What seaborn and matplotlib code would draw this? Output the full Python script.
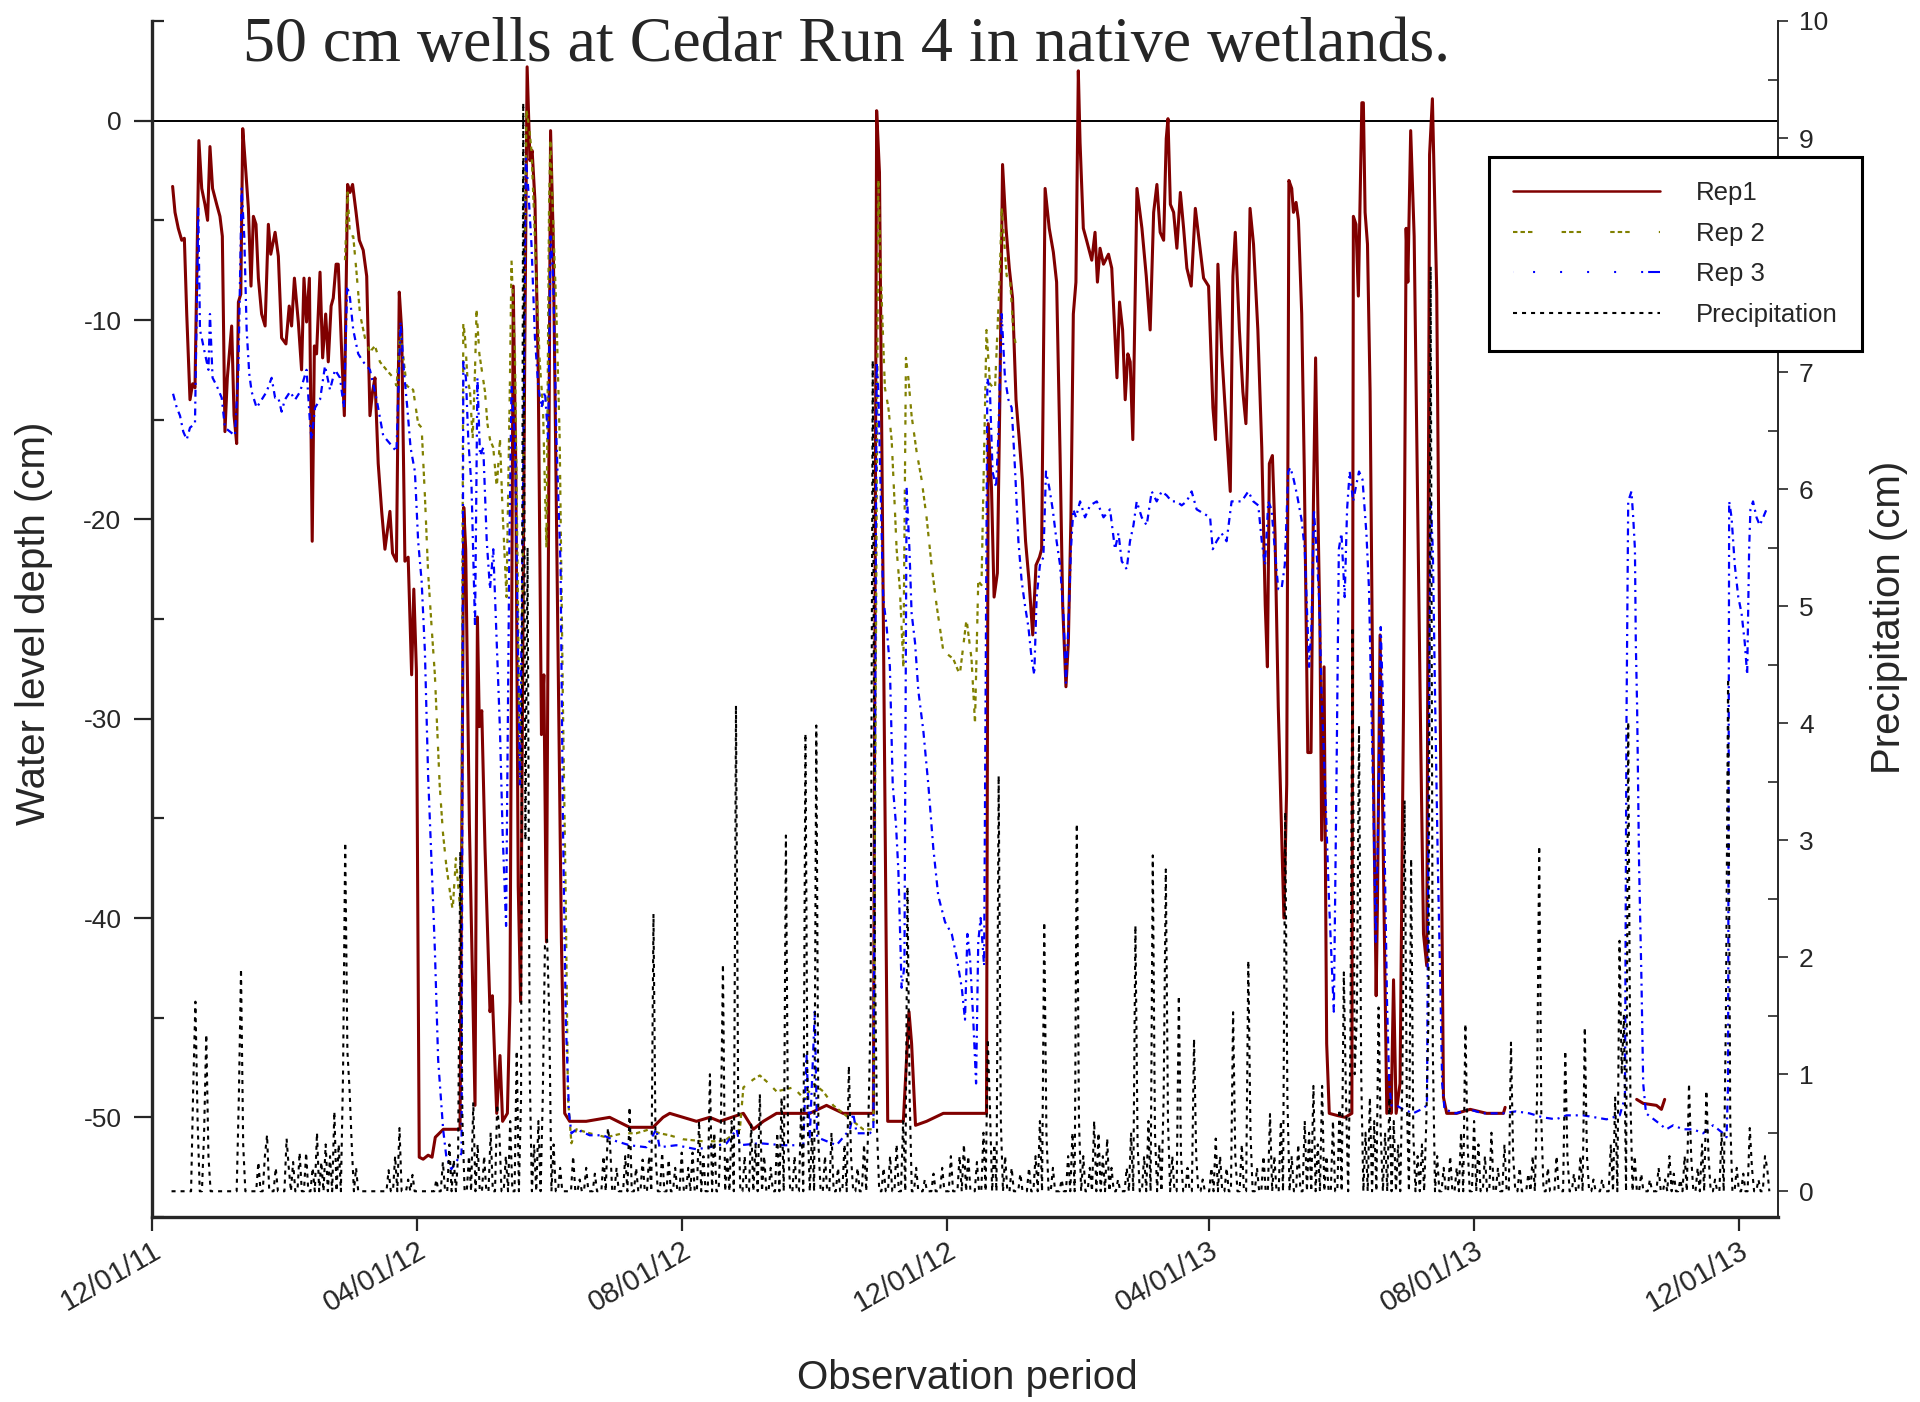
import numpy as np
import pandas as pd
import matplotlib
matplotlib.use("Agg")
import matplotlib.pyplot as plt
import matplotlib.dates as mdates
from matplotlib.ticker import MultipleLocator
from matplotlib.lines import Line2D
import seaborn as sns

START = pd.Timestamp("2011-12-01")

# jours depuis le 12/01/11 et profondeur de la nappe (cm)
rep1_day = [9.5, 10.6, 12.1, 13.7, 14.9, 16.0, 17.5, 18.7, 19.8, 21.6, 22.9, 24.4, 25.6, 26.7, 27.9,
            29.8, 31.3, 32.4, 33.6, 34.7, 36.7, 37.8, 39.0, 39.8, 40.9, 41.8, 42.8, 44.4, 45.6, 46.7,
            47.9, 49.0, 50.5, 52.1, 53.6, 54.7, 56.7, 58.2, 59.7, 61.7, 63.2, 64.3, 65.6, 67.4, 68.9,
            70.0, 71.2, 72.5, 73.8, 74.8, 75.8, 77.4, 78.6, 80.0, 81.2, 82.5, 83.5, 84.8, 85.8, 87.4,
            88.6, 90.1, 91.2, 92.4, 94.0, 95.5, 97.3, 98.9, 100.4, 101.6, 102.7, 104.2, 105.8, 107.3,
            109.6, 110.8, 112.6, 113.9, 115.0, 116.5, 118.0, 119.6, 120.6, 121.8, 123.1, 124.9, 127.2,
            129.0, 130.5, 134.2, 141.9, 143.6, 144.5, 146.2, 148.8, 149.9, 150.8, 151.9, 153.4, 155.7,
            156.8, 158.8, 160.3, 161.5, 163.7, 164.9, 166.4, 167.6, 168.7, 169.8, 171.7, 172.8, 174.1,
            175.1, 176.4, 177.9, 179.4, 180.5, 181.7, 183.6, 184.8, 186.3, 188.6, 190.1, 192.4, 200.0,
            210.8, 220.0, 230.8, 235.4, 238.5, 244.6, 250.8, 256.9, 261.5, 272.4, 277.0, 281.6, 287.7,
            303.0, 310.7, 318.4, 332.3, 333.8, 335.1, 336.6, 338.9, 346.1, 348.7, 349.9, 351.7, 356.8,
            364.5, 373.7, 379.8, 384.4, 385.2, 386.7, 387.9, 389.4, 390.6, 391.8, 393.4, 394.9, 396.4,
            398.0, 399.5, 400.9, 402.4, 404.0, 405.7, 407.2, 408.8, 409.8, 411.4, 413.3, 415.2, 416.7,
            418.3, 419.5, 421.0, 422.1, 423.3, 424.4, 425.6, 426.7, 427.5, 429.0, 430.5, 432.9, 434.4,
            435.5, 436.7, 438.3, 440.6, 442.1, 444.5, 445.7, 447.1, 448.3, 449.5, 450.6, 451.8, 453.7,
            456.0, 458.0, 459.8, 461.4, 462.9, 464.4, 466.0, 467.2, 468.0, 469.1, 470.6, 472.1, 473.7,
            475.2, 476.7, 478.7, 480.6, 482.1, 484.4, 486.7, 488.7, 489.9, 491.0, 492.8, 494.8, 496.7,
            497.9, 499.0, 500.9, 502.5, 503.9, 504.6, 505.8, 507.4, 509.4, 511.2, 512.8, 513.8, 514.7,
            516.1, 517.3, 518.8, 521.4, 522.7, 523.7, 525.0, 525.8, 527.0, 528.1, 529.6, 530.8, 532.4,
            533.9, 535.0, 536.0, 537.0, 538.0, 538.8, 539.9, 541.1, 542.3, 545.7, 549.6, 552.7, 553.4,
            554.6, 555.7, 557.3, 558.0, 558.8, 559.9, 561.1, 562.7, 563.9, 564.5, 565.7, 567.0, 568.8,
            570.0, 570.8, 571.9, 573.1, 574.9, 576.5, 577.7, 578.5, 579.8, 581.4, 583.4, 584.5, 585.7,
            587.2, 588.5, 589.8, 591.8, 593.7, 594.9, 596.4, 601.0, 607.2, 614.8, 622.5, 623.3]
rep1_cm = [-3.3, -4.6, -5.4, -6.0, -5.9, -9.7, -14.0, -13.2, -13.4, -1.0, -3.4, -4.2, -5.0, -1.3, -3.4,
           -4.2, -4.8, -5.8, -15.6, -12.9, -10.3, -14.8, -16.2, -9.1, -8.7, -0.4, -1.9, -4.4, -8.3, -4.8,
           -5.2, -7.9, -9.7, -10.3, -5.2, -6.7, -5.6, -6.8, -10.9, -11.2, -9.3, -10.3, -7.9, -10.1, -12.5,
           -7.9, -10.1, -7.9, -21.1, -11.3, -11.7, -7.6, -11.9, -9.7, -12.1, -9.3, -8.9, -7.2, -7.2, -11.7,
           -14.8, -3.2, -3.6, -3.2, -4.6, -6.0, -6.5, -7.8, -14.8, -13.6, -12.9, -17.2, -19.6, -21.5,
           -19.6, -21.7, -22.1, -8.6, -10.5, -22.1, -21.9, -27.8, -23.5, -27.6, -52.0, -52.1, -51.9,
           -52.0, -51.0, -50.6, -50.6, -19.4, -21.5, -35.3, -49.4, -24.9, -30.4, -29.6, -36.5, -44.7,
           -43.9, -49.8, -46.9, -50.2, -49.8, -44.2, -8.3, -17.6, -38.4, -44.2, -11.7, 2.7, -2.0,
           -1.5, -4.0, -12.5, -30.8, -27.8, -41.2, -0.5, -5.8, -19.6, -41.2, -49.8, -50.2, -50.2,
           -50.0, -50.5, -50.5, -50.0, -49.8, -50.0, -50.2, -50.0, -50.2, -49.8, -50.6, -50.2, -49.8,
           -49.8, -49.4, -49.8, -49.8, 0.5, -2.6, -21.5, -50.2, -50.2, -44.7, -46.3, -50.4, -50.2,
           -49.8, -49.8, -49.8, -49.8, -15.2, -18.4, -23.9, -22.7, -13.6, -2.2, -5.4, -7.4, -8.9,
           -14.0, -16.0, -18.0, -21.1, -23.1, -25.8, -22.3, -21.9, -21.5, -3.4, -5.4, -6.6, -8.1,
           -16.8, -24.3, -28.4, -26.2, -19.9, -9.7, -8.1, 2.5, -1.1, -5.4, -6.0, -7.0, -5.6,
           -8.1, -6.4, -7.2, -6.7, -7.4, -12.9, -9.1, -10.5, -14.0, -11.7, -12.1, -16.0, -3.4,
           -5.4, -7.8, -10.5, -4.6, -3.2, -5.6, -6.0, -0.9, 0.1, -4.2, -4.6, -6.4, -3.6,
           -5.4, -7.4, -8.3, -4.4, -5.8, -7.9, -8.3, -14.4, -16.0, -7.2, -11.7, -15.2, -18.6,
           -7.8, -5.6, -10.5, -13.6, -15.2, -12.5, -4.4, -6.2, -10.5, -16.4, -24.3, -27.4, -17.2,
           -16.8, -20.7, -29.4, -40.0, -33.3, -3.0, -3.4, -4.6, -4.1, -5.0, -9.7, -17.6, -31.7,
           -31.7, -19.2, -11.9, -19.2, -25.4, -36.1, -27.4, -46.3, -49.8, -49.9, -50.0, -49.8, -4.8,
           -5.2, -8.8, 0.9, 0.9, -4.6, -6.2, -13.6, -33.3, -43.9, -39.2, -25.8, -35.3, -49.8,
           -47.9, -49.8, -43.1, -49.8, -48.3, -29.4, -5.4, -8.1, -0.5, -5.8, -22.3, -31.7, -40.8,
           -42.4, -1.7, 1.1, -8.6, -33.3, -49.0, -49.8, -49.8, -49.6, -49.8, -49.8, -49.5]
rep1_late_day = [683.9, 686.9, 693.0, 695.3, 696.8]
rep1_late_cm = [-49.1, -49.3, -49.4, -49.6, -49.1]

rep2_day = [88.9, 90.1, 91.2, 92.7, 94.2, 95.8, 98.1, 100.4, 102.7, 105.0, 108.0, 110.4, 112.7, 114.2,
            115.8, 117.3, 120.3, 122.6, 124.2, 125.7, 127.2, 128.8, 130.3, 131.4, 132.5, 134.0, 135.5,
            137.0, 138.5, 140.0, 141.5, 142.5, 143.4, 144.2, 145.3, 146.5, 147.7, 148.8, 149.5, 150.8,
            151.9, 153.4, 154.5, 155.7, 157.2, 158.8, 160.3, 161.5, 163.3, 164.9, 165.6, 167.2, 168.3,
            169.5, 170.7, 171.7, 172.5, 173.7, 174.8, 175.8, 177.1, 178.6, 180.1, 181.7, 182.9, 183.5,
            184.8, 186.3, 187.8, 189.3, 190.6, 191.6, 193.2, 195.5, 201.6, 209.3, 216.9, 223.1, 229.2,
            233.8, 238.4, 244.6, 253.8, 261.5, 264.7, 270.8, 272.4, 277.0, 280.0, 283.1, 287.7, 295.4,
            300.7, 304.6, 309.2, 313.8, 318.4, 323.0, 327.6, 332.3, 334.6, 336.1, 337.6, 339.2, 340.7,
            342.2, 343.0, 344.5, 346.1, 347.3, 348.4, 349.9, 352.2, 354.5, 356.8, 359.1, 361.4, 364.5,
            369.1, 372.1, 375.2, 377.5, 379.1, 380.6, 382.1, 384.4, 386.0, 388.3, 390.5, 391.4, 392.4,
            393.7, 395.2, 396.7, 398.0]
rep2_cm = [-7.0, -3.6, -5.8, -5.8, -7.6, -9.7, -10.9, -11.6, -11.3, -12.1, -12.5, -12.8, -13.3, -10.5,
           -11.9, -13.3, -13.5, -15.2, -15.4, -18.8, -22.7, -25.4, -27.8, -30.6, -33.3, -35.7, -37.3,
           -38.5, -39.6, -37.0, -39.0, -40.0, -10.1, -10.9, -12.9, -13.6, -16.0, -12.5, -9.5, -11.7,
           -12.5, -13.6, -15.2, -16.0, -16.4, -18.4, -16.0, -19.6, -23.9, -12.9, -7.0, -11.7, -21.5,
           -33.3, -23.9, -6.6, 0.5, -0.3, -1.5, -4.2, -8.1, -12.1, -14.4, -21.5, -4.2, -1.0,
           -5.0, -9.7, -16.0, -29.4, -39.2, -49.0, -51.3, -50.6, -50.8, -51.0, -50.8, -50.8, -50.6,
           -50.8, -50.9, -51.1, -51.2, -51.2, -51.1, -50.6, -48.5, -48.1, -47.9, -48.2, -48.7, -48.5,
           -49.1, -48.3, -48.7, -49.4, -49.8, -50.2, -50.6, -50.6, -3.0, -8.9, -13.4, -14.4, -16.0,
           -19.5, -21.5, -23.5, -27.4, -11.9, -12.9, -14.8, -16.6, -18.0, -19.9, -22.3, -24.3, -26.6,
           -27.0, -27.8, -25.0, -27.0, -30.2, -23.1, -23.3, -10.5, -13.2, -13.5, -7.8, -4.4, -5.8,
           -7.8, -7.8, -10.5, -11.3]

rep3_day = [9.7, 11.4, 12.9, 14.4, 16.0, 17.5, 19.8, 21.3, 22.1, 22.9, 24.4, 26.0, 26.7, 27.9, 29.8,
            32.1, 33.6, 35.9, 38.2, 39.8, 41.3, 42.5, 43.6, 44.8, 45.9, 48.2, 50.5, 52.8, 55.1, 56.7,
            58.2, 59.7, 61.2, 63.6, 65.9, 68.2, 71.2, 72.8, 73.5, 75.1, 77.4, 79.7, 82.0, 84.3, 86.6,
            88.4, 89.9, 91.2, 92.7, 95.0, 97.3, 100.4, 103.5, 106.5, 109.6, 112.6, 114.5, 116.0, 117.6,
            119.1, 121.1, 122.6, 124.2, 125.7, 127.2, 128.8, 130.3, 131.8, 134.1, 135.6, 137.9, 140.3,
            142.6, 143.4, 144.6, 145.7, 147.2, 148.8, 149.9, 151.1, 152.6, 154.2, 155.7, 157.2, 158.8,
            160.3, 161.5, 163.1, 164.6, 165.6, 167.2, 168.3, 169.5, 171.0, 172.2, 173.3, 174.8, 176.4,
            177.9, 179.4, 181.0, 182.5, 183.6, 184.8, 186.3, 188.2, 189.3, 190.6, 192.1, 193.2, 195.5,
            201.6, 207.8, 213.9, 220.0, 227.7, 232.3, 233.8, 241.5, 250.7, 256.9, 264.7, 269.3, 270.8,
            280.0, 290.8, 300.0, 301.5, 303.0, 305.3, 306.4, 315.3, 321.5, 323.0, 324.6, 330.7, 332.3,
            333.8, 334.6, 335.6, 336.8, 338.4, 339.9, 341.2, 342.7, 343.8, 345.3, 346.6, 347.6, 348.9,
            349.9, 351.5, 353.0, 355.3, 357.6, 359.9, 362.2, 365.3, 368.4, 370.7, 373.0, 374.5, 375.6,
            376.8, 378.3, 379.6, 380.6, 381.7, 383.3, 384.8, 386.0, 387.2, 388.8, 389.8, 391.4, 392.9,
            394.5, 396.0, 397.6, 399.1, 400.6, 402.1, 403.7, 405.2, 406.4, 407.5, 409.0, 410.6, 411.8,
            413.3, 414.9, 416.7, 418.3, 419.8, 421.0, 422.1, 423.3, 424.4, 425.6, 427.5, 429.8, 432.1,
            435.2, 438.3, 441.3, 443.6, 445.2, 446.7, 449.0, 450.5, 452.1, 453.6, 455.9, 458.2, 460.5,
            462.8, 465.1, 467.4, 469.7, 472.0, 474.3, 476.6, 478.9, 481.2, 484.3, 487.4, 488.6, 490.4,
            492.7, 495.0, 497.3, 499.6, 501.9, 505.0, 507.3, 509.6, 511.2, 512.7, 514.2, 515.7, 517.2,
            518.8, 520.3, 521.8, 523.4, 524.4, 525.9, 527.5, 529.5, 531.0, 532.1, 533.0, 534.1, 535.2,
            536.4, 537.6, 538.7, 539.8, 541.0, 542.2, 543.3, 544.4, 545.6, 546.7, 547.9, 549.4, 550.5,
            551.7, 553.3, 554.5, 556.0, 557.6, 559.4, 560.6, 561.7, 562.8, 563.7, 564.8, 566.0, 567.1,
            567.9, 568.9, 569.9, 570.9, 573.2, 576.3, 580.9, 584.7, 587.3, 588.2, 589.0, 590.0, 591.1,
            592.3, 593.4, 594.3, 595.4, 600.7, 606.8, 613.0, 622.2, 628.3, 634.5, 640.6, 646.7, 651.6,
            659.3, 670.0, 676.1, 678.5, 679.2, 680.0, 681.5, 682.3, 683.1, 683.5, 684.1, 685.0, 686.1,
            686.9, 688.2, 693.0, 697.6, 700.7, 705.3, 709.9, 714.5, 719.1, 723.7, 725.3, 726.0, 726.5,
            727.6, 729.1, 730.7, 732.2, 733.7, 734.8, 735.7, 736.3, 737.5, 739.1, 740.6, 742.2, 743.7,
            745.2]
rep3_cm = [-13.7, -14.4, -14.8, -15.6, -16.0, -15.4, -15.2, -4.4, -10.5, -10.9, -11.7, -12.5, -9.7, -12.9, -13.3,
           -13.9, -15.4, -15.6, -15.8, -12.5, -3.4, -5.8, -10.5, -12.7, -13.6, -14.4, -14.0, -13.6, -12.9, -13.9,
           -13.9, -14.6, -14.0, -13.6, -14.0, -13.6, -12.5, -15.2, -16.0, -14.4, -14.0, -12.3, -13.5, -12.5, -12.9,
           -14.4, -8.3, -8.9, -10.5, -11.7, -12.1, -12.5, -14.0, -15.8, -16.2, -16.6, -10.1, -12.5, -14.4,
           -16.4, -17.6, -21.1, -23.1, -26.6, -32.9, -37.3, -41.6, -47.1, -50.6, -52.0, -52.6, -52.2,
           -51.8, -12.1, -12.9, -16.0, -18.4, -25.4, -12.9, -16.8, -16.4, -21.1, -23.5, -21.5, -26.2,
           -30.6, -35.7, -40.4, -21.5, -13.3, -16.0, -24.3, -33.3, -17.6, -1.9, -3.4, -6.2, -10.9,
           -13.3, -14.4, -13.6, -16.0, -5.8, -7.8, -16.0, -22.3, -35.3, -45.1, -49.8, -50.8, -50.6,
           -50.9, -50.9, -51.2, -51.4, -51.5, -50.6, -51.5, -51.4, -51.6, -51.5, -51.3, -50.6, -51.4,
           -51.3, -51.4, -51.4, -46.9, -51.0, -44.7, -51.0, -51.4, -50.6, -49.8, -50.8, -50.8, -50.6,
           -12.1, -13.6, -18.4, -23.9, -25.4, -27.4, -33.3, -35.3, -37.6, -43.5, -42.4, -18.4, -21.5,
           -24.7, -26.2, -28.6, -30.6, -33.3, -36.5, -38.9, -40.2, -40.8, -42.0, -43.5, -45.1, -40.8,
           -42.0, -45.1, -48.3, -41.2, -40.0, -42.4, -12.9, -13.6, -17.6, -18.4, -16.0, -9.7, -12.9,
           -14.0, -14.4, -17.6, -21.1, -23.1, -24.3, -25.4, -27.0, -27.8, -23.9, -22.3, -21.9, -17.6,
           -18.4, -19.5, -21.1, -22.3, -24.7, -28.2, -25.4, -21.5, -19.5, -19.9, -19.1, -19.9, -19.3,
           -19.1, -19.9, -19.5, -21.5, -20.7, -22.1, -22.5, -21.1, -20.3, -19.1, -19.9, -20.3, -18.6,
           -19.1, -18.6, -18.8, -19.1, -19.1, -19.3, -19.1, -18.6, -19.5, -19.7, -19.9, -21.5, -21.1,
           -20.7, -21.1, -19.1, -19.1, -19.1, -18.6, -19.1, -19.3, -21.1, -22.3, -19.1, -19.5, -21.5,
           -23.5, -23.5, -22.3, -17.6, -17.4, -18.0, -18.8, -20.0, -21.5, -24.7, -27.4, -25.4, -19.5,
           -21.5, -23.9, -28.6, -31.7, -35.3, -39.2, -42.0, -44.7, -33.3, -21.5, -20.7, -23.9, -19.5,
           -17.6, -19.1, -18.4, -17.6, -18.0, -20.7, -23.5, -29.4, -35.3, -41.2, -35.3, -25.4, -29.4,
           -37.3, -44.2, -48.3, -49.4, -49.4, -49.6, -49.8, -49.6, -49.4, -31.3, -19.1, -21.5, -29.4,
           -37.3, -43.1, -48.3, -49.6, -49.8, -49.6, -49.8, -49.8, -49.7, -49.8, -50.0, -50.1, -49.9,
           -49.9, -50.1, -49.9, -49.0, -30.2, -19.1, -18.6, -19.9, -21.5, -26.2, -29.4, -37.3, -43.1,
           -48.3, -49.8, -50.2, -50.6, -50.4, -50.6, -50.6, -50.8, -50.4, -50.8, -51.0, -48.3, -19.1,
           -19.9, -22.3, -23.9, -24.7, -26.2, -27.8, -21.5, -19.5, -19.1, -19.9, -20.3, -19.9, -19.5,
           -19.5]

# pluie journalière (cm), jours sans pluie = 0
rain_first, rain_last = 9, 745
rain_day = [19, 20, 21, 24, 25, 26, 40, 41, 42, 49, 52, 53, 57, 62, 63, 65, 68, 71, 74, 76, 78, 80, 82,
            84, 86, 88, 89, 90, 91, 92, 94, 109, 112, 114, 118, 120,
            131, 134, 137, 139, 141, 142, 143, 146, 148, 150, 153, 156, 159, 160, 163, 165, 168, 170,
            171, 172, 173, 174, 176, 178, 180, 181, 182, 183, 185, 188, 194, 197, 200, 204, 208, 210,
            211, 214, 218, 220, 223, 226, 229, 231, 232, 235, 238, 241, 244, 247, 249, 252, 254, 257, 259,
            262, 263, 265, 267, 269, 270, 273, 276, 278, 280, 282, 285, 288, 290, 292, 293, 296, 299,
            301, 302, 304, 306, 307, 310, 313, 316, 319, 321, 322, 325, 328, 330, 331, 332, 333, 334,
            337, 340, 343, 346, 348, 349, 352, 356, 360, 364, 368, 372, 374, 376, 380, 383, 385, 386,
            388, 390, 391, 393,
            396, 400, 404, 407, 409, 411, 412, 415, 419, 422, 424, 426, 427, 429, 432, 434, 436, 438,
            440, 442, 445, 449, 451, 453, 454, 457, 459, 461, 462, 464, 466, 467, 468, 470, 473, 474,
            477, 480, 481, 484, 488, 490, 492, 495, 498, 499, 502, 505, 506, 509, 512, 515, 517, 520,
            522, 523,
            525, 528, 531, 533, 535, 537, 539, 541, 544, 547, 549, 550, 552, 553, 554, 555, 556, 557,
            559, 561, 563, 565, 566, 568, 570, 572, 574, 576, 577, 578, 580, 581, 583, 585, 587, 588,
            589, 590, 592, 595, 598, 601, 603, 605, 606, 609, 611, 614, 617, 620, 623, 626, 627, 630,
            634, 636, 638, 639, 640, 643,
            647, 651, 652, 655, 658, 660, 661, 664, 668, 672, 674, 676, 677, 678, 680, 681, 683, 686,
            690, 694, 697, 699, 701, 704, 706, 708, 709, 712, 714, 716, 717, 720, 723, 725, 726, 727,
            730, 733, 736, 737, 740, 743, 744]
rain_cm = [0.9, 1.62, 0.6, 0.5, 1.34, 0.3, 0.8, 1.9, 0.4, 0.25, 0.3, 0.48, 0.2, 0.45, 0.2, 0.25, 0.33, 0.33,
           0.2, 0.5, 0.25, 0.4, 0.3, 0.68, 0.4, 1.0, 2.98, 1.2, 0.87, 0.4, 0.2, 0.18, 0.3, 0.54, 0.1, 0.14,
           0.1, 0.25, 0.4, 0.27, 0.3, 2.9, 0.6, 0.3, 0.76, 0.4, 0.3, 0.5, 0.74, 0.5, 0.3, 0.6, 1.2, 0.8,
           9.3, 3.0, 5.5, 1.0, 0.4, 0.6, 0.8, 2.1, 2.15, 1.5, 0.4, 0.2, 0.3, 0.1, 0.2, 0.15, 0.3, 0.54,
           0.4, 0.2, 0.3, 0.72, 0.2, 0.27, 0.3, 2.37, 0.3, 0.33, 0.27, 0.2, 0.33, 0.2, 0.33, 0.6, 0.3, 1.0, 0.5,
           0.5, 1.94, 0.3, 0.6, 4.15, 0.8, 0.3, 0.57, 0.4, 0.83, 0.3, 0.2, 0.5, 0.8, 3.04, 0.4, 0.3, 0.7,
           3.91, 0.6, 0.5, 3.98, 0.4, 0.3, 0.5, 0.2, 0.4, 1.07, 0.3, 0.2, 0.4, 0.6, 1.5, 7.1, 2.0, 0.5,
           0.2, 0.3, 0.4, 0.6, 2.6, 0.8, 0.2, 0.1, 0.15, 0.2, 0.3, 0.3, 0.4, 0.3, 0.25, 0.5, 1.3, 0.7,
           0.4, 3.55, 0.6, 0.3,
           0.2, 0.15, 0.2, 0.3, 0.6, 2.3, 0.5, 0.2, 0.1, 0.3, 0.5, 3.14, 0.6, 0.3, 0.2, 0.6, 0.5, 0.3,
           0.45, 0.2, 0.1, 0.2, 0.5, 2.27, 0.4, 0.3, 0.6, 2.87, 0.5, 0.4, 0.8, 2.75, 0.6, 0.3, 1.67, 0.3,
           0.2, 1.3, 0.3, 0.1, 0.2, 0.45, 0.3, 0.2, 1.53, 0.3, 0.4, 1.97, 0.5, 0.2, 0.3, 0.66, 0.3, 0.6,
           3.24, 0.8,
           0.3, 0.4, 0.6, 0.5, 0.9, 0.4, 0.9, 0.3, 0.6, 0.7, 1.87, 0.8, 1.2, 4.82, 1.0, 1.5, 3.98, 1.0,
           0.5, 0.8, 0.6, 1.57, 0.5, 0.5, 0.8, 0.6, 0.4, 1.0, 3.34, 0.8, 2.84, 0.5, 0.3, 0.4, 0.6, 1.5,
           7.9, 1.2, 0.3, 0.2, 0.3, 0.2, 0.5, 1.43, 0.4, 0.6, 0.4, 0.3, 0.5, 0.2, 0.4, 1.27, 0.3, 0.2,
           0.15, 0.3, 0.8, 2.95, 0.6, 0.2,
           0.3, 1.2, 0.3, 0.15, 0.3, 1.4, 0.3, 0.1, 0.1, 0.4, 0.8, 2.14, 1.0, 1.5, 4.01, 0.8, 0.3, 0.15,
           0.1, 0.2, 0.1, 0.3, 0.15, 0.1, 0.3, 0.92, 0.3, 0.2, 0.4, 0.86, 0.3, 0.1, 0.5, 1.5, 4.38, 0.6,
           0.2, 0.15, 0.54, 0.2, 0.1, 0.3, 0.2]

RED, OLIVE, BLUE = "#800000", "#808000", "#0000ff"
# motifs des courbes (points) et de la légende
REP2_LS = (0, (3.2, 2.4, 3.2, 2.4, 3.2, 6))
REP3_LS = (0, (5, 3.5, 1.5, 3.5))
REP2_LEG = (0, (3.2, 2.2, 3.2, 2.2, 3.2, 21))
REP3_LEG = (95.8, (1.45, 18, 1.45, 18, 1.45, 18, 1.45, 18, 1.45, 3.6, 13, 14.4))
RAIN_LS = (0, (2.9, 3.6))


def to_dates(days):
    return START + pd.to_timedelta(np.asarray(days, dtype=float), unit="D")


rain_days_all = np.arange(rain_first, rain_last + 1)
rain_all = np.zeros(len(rain_days_all))
rain_all[np.asarray(rain_day) - rain_first] = rain_cm

sns.set_style("ticks")
plt.rcParams["font.family"] = ["Liberation Sans", "DejaVu Sans"]
plt.rcParams["axes.unicode_minus"] = False
plt.rcParams["lines.scale_dashes"] = False

fig = plt.figure(figsize=(19.2, 14.02), dpi=100)
ax = fig.add_axes([152 / 1920, 1 - 1217 / 1402, 1626 / 1920, 1196 / 1402])
ax2 = ax.twinx()

common = dict(estimator=None, errorbar=None, legend=False)
sns.lineplot(x=to_dates(rep1_day), y=rep1_cm, ax=ax, color=RED, lw=2.2, **common)
sns.lineplot(x=to_dates(rep1_late_day), y=rep1_late_cm, ax=ax, color=RED, lw=2.2, **common)
sns.lineplot(x=to_dates(rep2_day), y=rep2_cm, ax=ax, color=OLIVE, lw=1.6, linestyle=REP2_LS, **common)
sns.lineplot(x=to_dates(rep3_day), y=rep3_cm, ax=ax, color=BLUE, lw=1.6, linestyle=REP3_LS, **common)
ax.axhline(0, color="black", lw=1.4, zorder=1)

sns.lineplot(x=to_dates(rain_days_all), y=rain_all, ax=ax2, color="black", lw=1.5,
             linestyle=RAIN_LS, **common)

# axes
ax.set_xlim(START, pd.Timestamp("2013-12-19"))
ax.set_ylim(-55, 5)
ax2.set_ylim(-0.22, 10)
ax.xaxis.set_major_locator(mdates.MonthLocator(bymonth=[4, 8, 12], bymonthday=1))
ax.xaxis.set_major_formatter(mdates.DateFormatter("%m/%d/%y"))
ax.yaxis.set_major_locator(MultipleLocator(10))
ax.yaxis.set_minor_locator(MultipleLocator(5))
ax2.yaxis.set_major_locator(MultipleLocator(1))
ax2.yaxis.set_minor_locator(MultipleLocator(0.5))

for a in (ax, ax2):
    a.set_xlabel("")
    a.set_ylabel("")
    a.spines["top"].set_visible(False)
ax.spines["right"].set_visible(False)
ax2.spines["left"].set_visible(False)
ax2.spines["bottom"].set_visible(False)
ax.spines["left"].set_linewidth(2.4)
ax.spines["bottom"].set_linewidth(2.4)
ax2.spines["right"].set_linewidth(1.4)

ax.tick_params(axis="y", which="major", direction="out", length=13, width=1.6, pad=9, labelsize=19)
ax.tick_params(axis="y", which="minor", direction="in", length=8.6, width=1.6)
ax.tick_params(axis="x", which="major", direction="out", length=10, width=1.6, pad=4, labelsize=21)
ax2.tick_params(axis="y", which="major", direction="out", length=7.2, width=1.2, pad=8, labelsize=19)
ax2.tick_params(axis="y", which="minor", direction="in", length=7.2, width=1.2)
for lbl in ax.get_xticklabels():
    lbl.set_rotation(30)
    lbl.set_ha("right")
    lbl.set_rotation_mode("anchor")

# textes
fig.text(847 / 1920, 1 - 61 / 1402, "50 cm wells at Cedar Run 4 in native wetlands.",
         family="Liberation Serif", fontsize=46, ha="center", va="baseline")
fig.text(34 / 1920, 1 - 623 / 1402, "Water level depth (cm)", fontsize=29, rotation=90,
         ha="center", va="center")
fig.text(1889 / 1920, 1 - 617 / 1402, "Precipitation (cm)", fontsize=29, rotation=90,
         ha="center", va="center")
fig.text(967 / 1920, 1 - 1378 / 1402, "Observation period", fontsize=29, ha="center", va="center")

handles = [Line2D([], [], color=RED, lw=1.8),
           Line2D([], [], color=OLIVE, lw=1.5, linestyle=REP2_LEG),
           Line2D([], [], color=BLUE, lw=1.5, linestyle=REP3_LEG),
           Line2D([], [], color="black", lw=1.5, linestyle=RAIN_LS)]
leg = ax2.legend(handles, ["Rep1", "Rep 2", "Rep 3", "Precipitation"], loc="upper left",
                 bbox_to_anchor=(1489 / 1920, 1 - 157 / 1402), bbox_transform=fig.transFigure,
                 fontsize=18.5, frameon=True, fancybox=False, framealpha=1, edgecolor="black",
                 handlelength=5.7, handletextpad=1.4, borderpad=0.95, labelspacing=0.64,
                 borderaxespad=0)
leg.get_frame().set_linewidth(2.2)
leg.set_zorder(10)

fig.savefig("out.png", dpi=100)
